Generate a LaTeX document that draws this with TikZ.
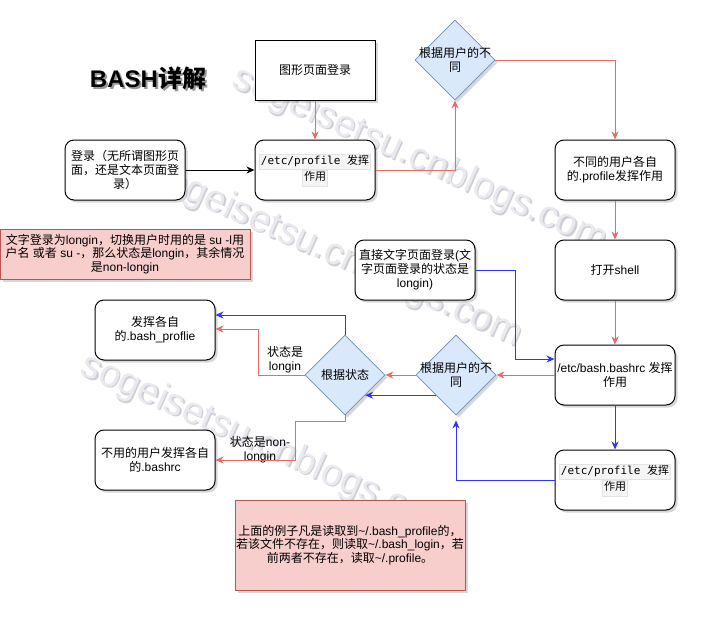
\documentclass[tikz,border=0pt]{standalone}
\usepackage{fontspec}
\setmainfont{Liberation Sans}
\setmonofont{DejaVu Sans Mono}
\newfontfamily\cjkfont{Noto Sans CJK SC}
\usetikzlibrary{shapes.geometric,arrows.meta,shadows,calc}
\makeatletter
\XeTeXinterchartokenstate=1
\chardef\cjkcls=10
\count@="4E00 \loop\XeTeXcharclass\count@=\cjkcls\advance\count@ by 1 \ifnum\count@<"A000 \repeat
\count@="3000 \loop\XeTeXcharclass\count@=\cjkcls\advance\count@ by 1 \ifnum\count@<"3040 \repeat
\count@="FF00 \loop\XeTeXcharclass\count@=\cjkcls\advance\count@ by 1 \ifnum\count@<"FFF0 \repeat
\def\cjkon{\edef\savedfam{\f@family}\cjkfont}
\def\cjkoff{\fontfamily{\savedfam}\selectfont}
\XeTeXinterchartoks 0 \cjkcls={\cjkon}
\XeTeXinterchartoks 4095 \cjkcls={\cjkon}
\XeTeXinterchartoks \cjkcls 0={\cjkoff}
\XeTeXinterchartoks \cjkcls 4095={\cjkoff}
\makeatother
\definecolor{redE}{HTML}{EA6B66}
\definecolor{blueE}{HTML}{3333FF}
\definecolor{dfill}{HTML}{DAE8FC}
\definecolor{ddraw}{HTML}{6C8EBF}
\definecolor{pfill}{HTML}{F8CECC}
\definecolor{pdraw}{HTML}{B85450}
\definecolor{wmfg}{HTML}{E9E9EF}
\definecolor{wmsh}{HTML}{CDCDD6}
\definecolor{codebg}{HTML}{F5F5F5}
\definecolor{codebd}{HTML}{E3E3E3}
\newcommand\codebox[1]{{\setlength\fboxsep{1pt}\setlength\fboxrule{0.6pt}\fcolorbox{codebd}{codebg}{\ttfamily\fontsize{11}{13}\selectfont\strut #1}}}
\begin{document}
\begin{tikzpicture}[x=1pt,y=-1pt,
  every node/.style={font=\fontsize{12}{14}\selectfont, inner sep=0pt},
  shd/.style={drop shadow={shadow xshift=2.5pt,shadow yshift=-2.5pt,opacity=0.22,fill=black!70}},
  box/.style={draw, line width=1pt, fill=white, rounded corners=9pt, minimum width=120pt, minimum height=60pt, align=center, shd},
  sqbox/.style={box, rounded corners=0pt},
  dia/.style={diamond, draw=ddraw, fill=dfill, line width=0.8pt, minimum width=80pt, minimum height=80pt, shd},
  note/.style={draw=pdraw, fill=pfill, line width=1pt, align=center, shd},
  tip/.style={-{Stealth[length=8pt,width=7pt,inset=2.5pt]}},
  redl/.style={draw=redE, line width=1pt, tip},
  bluel/.style={draw=blueE, line width=1pt, tip},
  blkl/.style={draw=black, line width=1pt, tip},
  wm/.style={font=\fontsize{38}{38}\selectfont, rotate=-24, text=wmfg},
  wmS/.style={wm, text=wmsh}
]
\fill[white] (0,0) rectangle (705,625);
\useasboundingbox (0,0) rectangle (705,625);

% watermarks
\node[wmS] (wm1s) at (421.5,161.5) {sogeisetsu.cnblogs.com};
\node[wm]  (wm1)  at (420,160) {sogeisetsu.cnblogs.com};
\node[wmS] (wm2s) at (336.5,256.5) {sogeisetsu.cnblogs.com};
\node[wm]  (wm2)  at (335,255) {sogeisetsu.cnblogs.com};
\node[wmS] (wm3s) at (269.5,448.5) {sogeisetsu.cnblogs.com};
\node[wm]  (wm3)  at (268,447) {sogeisetsu.cnblogs.com};

% title
\node[text=black!40, font=\fontsize{24}{28}\selectfont\bfseries] (titles) at (150,80) {BASH详解};
\node[font=\fontsize{24}{28}\selectfont\bfseries] (title) at (148,78) {BASH详解};

% nodes
\node[sqbox] (gfx) at (315,70) {图形页面登录};
\node[box] (login) at (125,170) {登录（无所谓图形页\\面，还是文本页面登\\录）};
\node[box] (prof1) at (315,170) {\codebox{/etc/profile 发挥}\\[-1pt]\codebox{作用}};
\node[dia, label={[name=d1t,align=center]center:根据用户的不\\同}] (d1) at (455,60) {};
\node[box] (diffprof) at (615,170) {不同的用户各自\\的.profile发挥作用};
\node[box] (shell) at (615,270) {打开shell};
\node[box] (bashrc) at (615,375) {/etc/bash.bashrc 发挥\\作用};
\node[box] (prof2) at (615,480) {\codebox{/etc/profile 发挥}\\[-1pt]\codebox{作用}};
\node[dia, label={[name=d2t,align=center]center:根据用户的不\\同}] (d2) at (456,375) {};
\node[dia, label={[name=d3t,align=center]center:根据状态}] (d3) at (345,375) {};
\node[box] (direct) at (415,270) {直接文字页面登录(文\\字页面登录的状态是\\longin)};
\node[box] (bashprof) at (155,330) {发挥各自\\的.bash\_proflie};
\node[box] (bashrcbox) at (155,460) {不用的用户发挥各自\\的.bashrc};
\node[note, minimum width=250pt, minimum height=50pt, font=\fontsize{12}{13.5}\selectfont] (note1) at (125,254)
  {文字登录为longin，切换用户时用的是 su -l用\\户名 或者 su -，那么状态是longin，其余情况\\是non-longin};
\node[note, minimum width=230pt, minimum height=90pt, font=\fontsize{12}{13.5}\selectfont] (note2) at (350,545)
  {上面的例子凡是读取到\textasciitilde/.bash\_profile的，\\若该文件不存在，则读取\textasciitilde/.bash\_login，若\\前两者不存在，读取\textasciitilde/.profile。};

% edge labels
\node[align=center] (lb1) at (285,360) {状态是\\longin};
\node[align=center] (lb2) at (260,450) {状态是non-\\longin};

% edges
\draw[blkl] (login) -- (prof1);
\draw[redl] (gfx) -- (prof1);
\draw[redl] (prof1.east) -| (d1.south);
\draw[redl] (d1.east) -| (diffprof.north);
\draw[redl] (diffprof) -- (shell);
\draw[redl] (shell) -- (bashrc);
\draw[redl] (bashrc.west) -- (d2.east);
\draw[redl] (d2.west) -- (d3.east);
\draw[redl] (d3.west) -- ++(-46,0) |- ([yshift=1pt]bashprof.east);
\draw[bluel] (d3.north) |- ([yshift=15pt]bashprof.east);
\draw[redl] (d3.south) -- ++(0,6) -- ++(-50,0) |- (bashrcbox.east);
\draw[bluel] (direct.east) -- ++(40,0) |- ([yshift=16pt]bashrc.west);
\draw[bluel] (bashrc) -- (prof2);
\draw[bluel, shorten >=5pt] (prof2.west) -| (d2.south);
\draw[bluel] (d2.south west) -- (d3.south east);
\end{tikzpicture}
\end{document}
